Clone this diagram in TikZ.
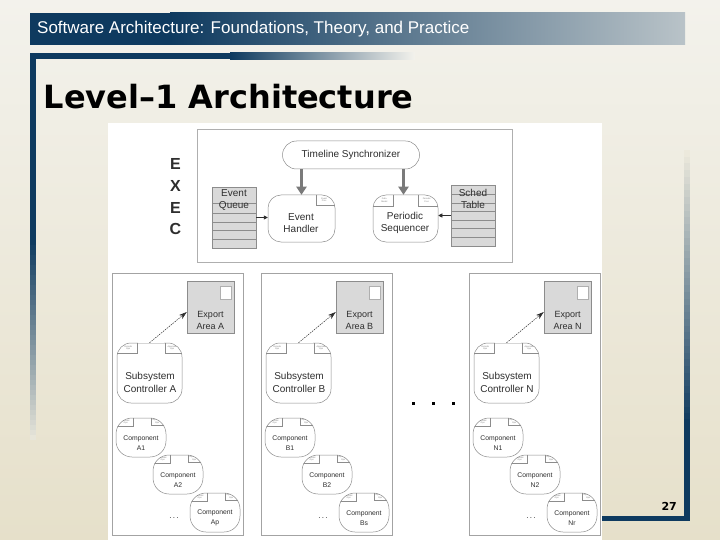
\documentclass[tikz,border=0pt]{standalone}
\usepackage{fontspec}
\setmainfont{Liberation Sans}
\newfontfamily\verd{DejaVu Sans}
\usetikzlibrary{arrows.meta,calc}
\definecolor{navy}{HTML}{0E3A5F}
\definecolor{bgtop}{HTML}{F3F2EC}
\definecolor{bgbot}{HTML}{E6E0CA}
\definecolor{bgmid}{HTML}{ECE9DC}
\definecolor{barend}{HTML}{B9C3C8}
\definecolor{lgrey}{HTML}{8C8C8C}
\definecolor{tfill}{HTML}{D9D9D9}
\definecolor{txtc}{HTML}{2E2E2E}
\definecolor{fatc}{HTML}{7A7A7A}

\tikzset{
  proc/.style={draw=lgrey, line width=0.5pt, fill=white, rectangle, inner sep=0pt},
  tabline/.style={draw=lgrey, line width=0.4pt},
  tabtxt/.style={font=\fontsize{2.2}{2.4}\selectfont, text=gray, align=center, inner sep=0pt},
  tbl/.style={draw=lgrey, fill=tfill, line width=0.5pt, inner sep=0pt, minimum width=44pt, minimum height=61pt},
  tline/.style={draw=lgrey, line width=0.5pt},
  ptxt/.style={font=\fontsize{10}{12.5}\selectfont, align=center, inner sep=0pt, text=txtc},
  etxt/.style={font=\fontsize{9}{12}\selectfont, align=center, inner sep=0pt, text=txtc},
  ctxt/.style={font=\fontsize{6.8}{9.5}\selectfont, align=center, inner sep=0pt, text=txtc},
  sbox/.style={draw=lgrey!80, line width=0.5pt, inner sep=0pt},
  expbox/.style={draw=lgrey, fill=tfill, line width=0.5pt, inner sep=0pt},
  wsq/.style={draw=lgrey!70, fill=white, line width=0.4pt, inner sep=0pt},
  comp/.style={proc, rounded corners=16pt, minimum width=50pt, minimum height=39pt},
  fatarrow/.style={draw=fatc, line width=3pt, -{Triangle[length=8pt,width=10pt]}},
  sarrow/.style={draw=txtc, line width=0.5pt, -{Triangle[length=4pt,width=4pt]}},
  darrow/.style={draw=txtc, line width=0.5pt, dash pattern=on 1.5pt off 1pt, -{Stealth[length=8pt,width=5pt]}},
}

\newcommand\tabL[5]{%
  \begin{scope}
    \clip[rounded corners=#2pt] (#1.south west) rectangle (#1.north east);
    \draw[tabline] ([xshift=#3pt]#1.north west) -- ++(0,#4) -- ++(-#3-6,0);
    \node[tabtxt] at ([xshift={#3*0.5pt+1.5pt},yshift={-#4*0.5pt}]#1.north west) {#5};
  \end{scope}}
\newcommand\tabR[5]{%
  \begin{scope}
    \clip[rounded corners=#2pt] (#1.south west) rectangle (#1.north east);
    \draw[tabline] ([xshift=-#3pt]#1.north east) -- ++(0,#4) -- ++(#3+6,0);
    \node[tabtxt] at ([xshift={-#3*0.5pt-1.5pt},yshift={-#4*0.5pt}]#1.north east) {#5};
  \end{scope}}

\newcommand\subsys[3]{%
  \begin{scope}[shift={(#1,0)}]
    \node[sbox, minimum width=131pt, minimum height=262pt] (box#2) at (65.5,404) {};
    \node[expbox, minimum width=47pt, minimum height=52pt] (exp#2) at (98.5,307) {};
    \node[wsq, minimum width=11pt, minimum height=13pt] (sq#2) at (113.5,292.5) {};
    \node[etxt] (expt#2) at (98.5,320) {Export\\Area #2};
    \node[proc, rounded corners=14pt, minimum width=65pt, minimum height=60pt] (ctl#2) at (37.5,373) {};
    \draw[white, line width=1.2pt] ([xshift=21pt]ctl#2.north west) -- ([xshift=-18pt]ctl#2.north east);
    \tabL{ctl#2}{14}{20}{10}{Periodic\\Ops}
    \tabR{ctl#2}{14}{17}{10}{Aperiodic\\Ops}
    \node[ptxt] (ctlt#2) at (38,382.5) {Subsystem\\Controller #2};
    \draw[darrow] (ctl#2.north) -- ([yshift=-5pt]exp#2.west);
    \node[comp] (c#21) at (29,437.5) {};
    \tabL{c#21}{16}{17}{8}{Periodic\\Ops}
    \tabR{c#21}{16}{15}{7}{Aperiodic\\Ops}
    \node[ctxt] (ct#21) at (29,443) {Component\\#21};
    \node[comp] (c#22) at (66,474.5) {};
    \tabL{c#22}{16}{17}{8}{Periodic\\Ops}
    \tabR{c#22}{16}{15}{7}{Aperiodic\\Ops}
    \node[ctxt] (ct#22) at (66,480) {Component\\#22};
    \node[comp] (c#2#3) at (103,512.5) {};
    \tabL{c#2#3}{16}{17}{8}{Periodic\\Ops}
    \tabR{c#2#3}{16}{15}{7}{Aperiodic\\Ops}
    \node[ctxt] (ct#2#3) at (103,518) {Component\\#2#3};
    \node[font=\fontsize{8}{8}\selectfont, text=txtc, inner sep=0pt] (dd#2) at (62,518) {.\,.\,.};
  \end{scope}}

\begin{document}
\begin{tikzpicture}[x=1pt,y=-1pt]
\useasboundingbox (0,0) rectangle (720,540);
% background
\shade[top color=bgtop, bottom color=bgbot] (0,0) rectangle (720,540);
% header bar
\fill[navy] (30,13) rectangle (170,45);
\shade[left color=navy, right color=barend] (170,13) rectangle (685,45);
\node[anchor=west, text=white, font=\fontsize{17}{19}\selectfont, inner sep=0pt] (hdr) at (37,29.5) {Software Architecture: Foundations, Theory, and Practice};
% title frame
\fill[navy] (30,53) rectangle (230,59.5);
\shade[left color=navy, right color=bgtop] (230,53) rectangle (415,59.5);
\fill[navy] (30,53) rectangle (35.5,240);
\foreach \i [evaluate=\i as \p using 100-\i*2.5] in {0,...,39}
  \fill[navy!\p!bgmid] (30,240+\i*5) rectangle (35.5,245.3+\i*5);
\node[anchor=base west, font=\verd\bfseries\fontsize{32}{36}\selectfont, text=black, inner sep=0pt] (title) at (43.5,108.5) {Level–1 Architecture};
% right/bottom frame
\foreach \i [evaluate=\i as \p using \i*2.5] in {0,...,39}
  \fill[navy!\p!bgmid] (684,150+\i*6.75) rectangle (689.5,157+\i*6.75);
\fill[navy] (684,419) rectangle (689.5,521);
\fill[navy] (500,516) rectangle (689.5,521);
\node[anchor=base east, font=\verd\bfseries\fontsize{11}{13}\selectfont, text=black, inner sep=0pt] (pg) at (677,510) {27};
% white diagram area
\fill[white] (108,123) rectangle (602,541);

% EXEC frame
\node[draw=lgrey!70, line width=0.5pt, inner sep=0pt, minimum width=315pt, minimum height=133pt] (execf) at (354.5,195.5) {};
\node[font=\bfseries\fontsize{16}{21.7}\selectfont, align=center, inner sep=0pt, text=txtc] (exec) at (175.5,197) {E\\X\\E\\C};

\node[proc, rounded corners=14pt, minimum width=137pt, minimum height=28pt, font=\fontsize{10}{12}\selectfont, text=txtc] (ts) at (351,155) {Timeline Synchronizer};

\node[proc, rounded corners=13pt, minimum width=67pt, minimum height=47pt] (eh) at (301.5,218.5) {};
\tabR{eh}{13}{19}{10}{Event\\Proc}
\node[ptxt] (eht) at (301,223) {Event\\Handler};

\node[proc, rounded corners=13pt, minimum width=65pt, minimum height=47pt] (ps) at (405.5,218.5) {};
\tabL{ps}{13}{20}{11}{Data\\Model}
\tabR{ps}{13}{20}{11}{Periodic\\Proc}
\node[ptxt] (pst) at (405,223) {Periodic\\Sequencer};

\draw[fatarrow] (eh.north |- ts.south) -- (eh.north);
\draw[fatarrow] ([xshift=-2pt]ps.north |- ts.south) -- ([xshift=-2pt]ps.north);

% Event queue
\node[tbl] (eq) at (234,217.5) {};
\foreach \yy in {203,213,222,230.5,239} \draw[tline] (eq.west |- 0,\yy) -- (eq.east |- 0,\yy);
\node[ptxt] (eqt) at (234,200) {Event\\Queue};
\draw[sarrow] (eq.east) -- (eq.east -| eh.west);

% Sched table
\node[tbl] (st) at (473,215.5) {};
\foreach \yy in {194,203,211,220,228,237} \draw[tline] (st.west |- 0,\yy) -- (st.east |- 0,\yy);
\node[ptxt] (stt) at (473,199) {Sched\\Table};
\draw[sarrow] (st.west) -- (st.west -| ps.east);

% subsystems
\subsys{112}{A}{p}
\subsys{261}{B}{s}
\subsys{469}{N}{r}

% ellipsis between B and N
\foreach \xx in {413,433,453} \fill[black] (\xx-1.5,401.5) rectangle (\xx+1.5,404.5);
\end{tikzpicture}
\end{document}
